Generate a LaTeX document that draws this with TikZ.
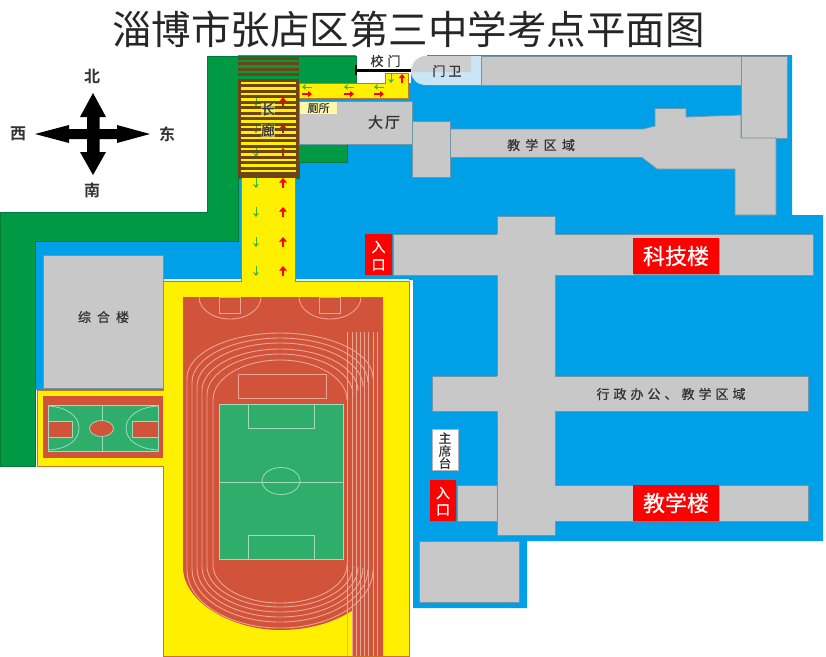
\documentclass[tikz,border=0pt]{standalone}
\usepackage{fontspec}
\setmainfont{Noto Sans CJK SC}
\newfontfamily\cjkbold{Noto Sans CJK SC Bold}
\newfontfamily\cjkmid[FakeBold=0.6]{Noto Sans CJK SC}
\usetikzlibrary{arrows.meta}
\definecolor{mapblue}{HTML}{00A0E9}
\definecolor{mapgreen}{HTML}{009A44}
\definecolor{mapyellow}{HTML}{FFF000}
\definecolor{mapgrey}{HTML}{C8C8C8}
\definecolor{trackred}{HTML}{D0533A}
\definecolor{pitch}{HTML}{2EAD6B}
\definecolor{edgeorange}{HTML}{C9781E}
\definecolor{corrbrown}{HTML}{6E4414}
\definecolor{laneline}{HTML}{EDA596}
\definecolor{gatelight}{HTML}{C9E5F6}
\definecolor{inkgrey}{HTML}{333333}
\newcommand{\fs}[1]{\fontsize{#1}{#1}\selectfont}
\tikzset{
  x=1pt,y=-1pt,
  blueland/.style={fill=mapblue},
  greenland/.style={fill=mapgreen,draw=mapgreen!80!black,line width=.3pt},
  building/.style={fill=mapgrey,draw=mapgrey!70!mapblue!80!black,line width=.7pt},
  roadway/.style={fill=mapyellow,draw=edgeorange,line width=.8pt},
  fieldline/.style={draw=laneline,line width=.9pt},
  pitchline/.style={draw=pitch!45!white,line width=.8pt},
  label/.style={inner sep=0pt,text=inkgrey,font=\cjkmid\fs{13}},
  badge/.style={fill=red,text=white,inner sep=0pt,font=\cjkmid\fs{22}},
  dirlabel/.style={inner sep=0pt,text=inkgrey,font=\cjkbold\fs{16}},
  downarrow/.style={draw=mapgreen!75!yellow,line width=1pt,-{Stealth[length=4pt,width=6pt,inset=1.5pt]}},
  uparrow/.style={draw=red,line width=2pt,-{Stealth[length=4.5pt,width=7.5pt,inset=0pt]}},
  thinup/.style={draw=red,line width=1.5pt,-{Stealth[length=4pt,width=6pt,inset=0pt]}},
}
\begin{document}
\begin{tikzpicture}
\useasboundingbox[fill=white] (0,0) rectangle (826,656);
% title
\node[inner sep=0pt,text=black!85] (title) at (408.5,29) {\fs{39.5}淄博市张店区第三中学考点平面图};
% blue ground
\fill[blueland] (238,55)--(792,55)--(792,215)--(823,215)--(823,541)--(527,541)--(527,608)--(413,608)--(413,280)--(163,280)--(163,390)--(35,390)--(35,241)--(238,241)--cycle;
% white gate bay
\fill[white] (356,54) rectangle (411,83);
\fill[white] (411,54) rectangle (427,70);
% green ground
\path[greenland] (207,56)--(356,56)--(356,83)--(299,83)--(299,144)--(347,144)--(347,162)--(299,162)--(299,178)--(238,178)--(238,241)--(35,241)--(35,466)--(0,466)--(0,212)--(207,212)--cycle;
% yellow road and sports ground
\draw[white,line width=1.5pt] (164,279.5)--(241,279.5) (295,279.5)--(409,279.5);
\path[roadway] (241,170)--(295,170)--(295,281)--(409,281)--(409,656)--(163,656)--(163,466)--(37,466)--(37,390)--(163,390)--(163,281)--(241,281)--cycle;
\path[roadway] (299,83)--(385,83)--(385,73)--(408,73)--(408,98)--(299,98)--cycle;
% corridor
\fill[mapyellow] (241,80) rectangle (296,172);
\foreach \yy in {97,124,148}{
  \draw[downarrow] (256,\yy)--(256,\yy+9);
  \draw[thinup] (283,\yy+9)--(283,\yy);
}
\foreach \yy in {56.5,62,...,172}{
  \fill[corrbrown] (238,\yy) rectangle (299,\yy+3);
}
\fill[corrbrown] (238,172) rectangle (299,178);
\fill[corrbrown] (238,80) rectangle (241,178);
\fill[corrbrown] (296,80) rectangle (299,178);
% arrows on roads
\foreach \yy in {178,207,237,266}{
  \draw[downarrow] (256,\yy)--(256,\yy+10);
  \draw[uparrow] (283,\yy+10)--(283,\yy);
}
\foreach \xx in {307,349,379}{
  \draw[downarrow] (\xx+5,87)--(\xx-5,87);
  \draw[thinup] (\xx-5,94)--(\xx+5,94);
}
\draw[downarrow] (391,74)--(391,83);
\draw[thinup] (402,83)--(402,74);
% gate
\draw[black,line width=3pt] (356,70)--(411,70);
\draw[black,line width=1.5pt] (356,65)--(356,75);
\node[label] (gate) at (385.5,61) {校\hspace{4pt}门};
% gatehouse
\fill[gatelight] (481,56)--(426,56) .. controls (417,56) and (411,63) .. (411,71) .. controls (411,79) and (417,85) .. (426,85)--(481,85)--cycle;
\fill[mapgrey!90!white] (471,56)--(426,56) .. controls (418,56) and (412,63) .. (411.5,72)--(471,72)--cycle;
\node[label] (guard) at (447,71) {门\hspace{3pt}卫};
% north buildings
\path[building] (481,56) rectangle (741,85);
\path[building] (741,56) rectangle (787,138);
\path[building] (450,129)--(643,129)--(655,126)--(655,108.5)--(686,108.5)--(686,117)--(741,115)--(741,138)--(776,138)--(776,215)--(735,215)--(735,169)--(657,169)--(642,157.5)--(450,157.5)--cycle;
\path[building] (412,121) rectangle (450,177);
\path[building] (299,101) rectangle (412,144);
\fill[yellow!35!white] (300,102) rectangle (337,114);
\node[label,font=\cjkmid\fs{11}] (wc) at (318.5,108) {厕所};
\node[label,font=\cjkmid\fs{15}] (hall) at (384,122) {大\hspace{2pt}厅};
\node[label] (teacharea) at (541,145) {教\hspace{5.3pt}学\hspace{5.3pt}区\hspace{5.3pt}域};
\node[label,font=\cjkmid\fs{14},fill=mapyellow!50!white,fill opacity=.55,text opacity=1] (long) at (268,109) {长};
\node[label,font=\cjkmid\fs{14},fill=mapyellow!50!white,fill opacity=.55,text opacity=1] (lang) at (268,130) {廊};
% east buildings
\path[building] (393,234) rectangle (813,275);
\path[building] (432,376) rectangle (808,411);
\path[building] (457,485) rectangle (808,521);
\path[building,draw=none] (497,216) rectangle (555,535);
\draw[mapgrey!70!mapblue!80!black,line width=.7pt] (497,234)--(497,216)--(555,216)--(555,234) (497,275)--(497,376) (555,275)--(555,376) (497,411)--(497,535)--(555,535)--(555,521) (555,411)--(555,485);
\path[building] (419,541) rectangle (519,602);
\path[building] (43,255) rectangle (163,388);
\node[label] (zonghe) at (103.5,317) {综\hspace{6pt}合\hspace{6pt}楼};
\node[label] (admin) at (671,394) {行\hspace{4pt}政\hspace{4pt}办\hspace{4pt}公\hspace{4pt}、\hspace{4pt}教\hspace{4pt}学\hspace{4pt}区\hspace{4pt}域};
% red labels
\fill[black!55,opacity=.5] (634,239) rectangle (720,275.5);
\fill[black!55,opacity=.5] (634,486) rectangle (720,522.5);
\fill[black!55,opacity=.5] (366,235) rectangle (393,276);
\fill[black!55,opacity=.5] (431,481) rectangle (457,522);
\node[badge,minimum width=86pt,minimum height=36pt] (keji) at (676,256) {科技楼};
\node[badge,minimum width=86pt,minimum height=36pt] (jiaoxue) at (676,503) {教学楼};
\node[fill=red,minimum width=27pt,minimum height=41pt,inner sep=0pt] (entry1) at (378.5,254.5) {};
\node[fill=red,minimum width=26pt,minimum height=41pt,inner sep=0pt] (entry2) at (443,500.5) {};
\node[label,text=white,font=\cjkmid\fs{14}] (ru1) at (378.5,247) {入};
\node[label,text=white,font=\cjkmid\fs{14}] (kou1) at (378.5,265) {口};
\node[label,text=white,font=\cjkmid\fs{14}] (ru2) at (443,493) {入};
\node[label,text=white,font=\cjkmid\fs{14}] (kou2) at (443,510) {口};
\node[fill=white,draw=black!30,line width=.4pt,minimum width=26pt,minimum height=41pt,inner sep=0pt] (stand) at (445,450) {};
\node[label,font=\cjkmid\fs{12.5}] (s1) at (445,438) {主};
\node[label,font=\cjkmid\fs{12.5}] (s2) at (445,451) {席};
\node[label,font=\cjkmid\fs{12.5}] (s3) at (445,463) {台};
% track
\fill[trackred] (183,297)--(383,297)--(383,656)--(353,656)--(353,610) .. controls (335,622) and (310,630) .. (280,630) .. controls (232,630) and (183,602) .. (183,567)--cycle;
% lanes
\foreach \ll/\tt/\bb in {187/333/628,192/338/622,197/343/617,202/349/612,207/354/607,213/360/603}{
  \pgfmathsetmacro{\rr}{560-\ll}
  \pgfmathsetmacro{\yt}{378+(\ll-187)*22/26}
  \pgfmathsetmacro{\yb}{570-(\ll-187)*5/26}
  \pgfmathsetmacro{\kx}{(280-\ll)*.55}
  \pgfmathsetmacro{\kt}{(\yt-\tt)*.55}
  \pgfmathsetmacro{\kb}{(\bb-\yb)*.55}
  \draw[fieldline] (\ll,\yb)--(\ll,\yt) .. controls (\ll,{\yt-\kt}) and ({280-\kx},\tt) .. (280,\tt) .. controls ({280+\kx},\tt) and (\rr,{\yt-\kt}) .. (\rr,\yt)
     (\ll,\yb) .. controls (\ll,{\yb+\kb}) and ({280-\kx},\bb) .. (280,\bb) .. controls ({280+\kx},\bb) and (\rr,{\yb+\kb}) .. (\rr,\yb);
}
\foreach \xx in {347,352,356,360,364,368,373,377}{
  \draw[fieldline] (\xx,332)--(\xx,656);
}
% pitch
\fill[pitch] (219,404) rectangle (343,559);
\draw[pitchline] (219,404) rectangle (343,559);
\draw[pitchline] (219,482)--(343,482);
\draw[pitchline] (281,481) ellipse[x radius=19,y radius=13.5];
\draw[pitchline] (248,404) rectangle (314,428);
\draw[pitchline] (248,535) rectangle (314,559);
\draw[fieldline] (238,374) rectangle (326,398);
% throwing areas
\begin{scope}
\clip (183,297) rectangle (383,330);
\draw[fieldline] (230,297) ellipse[x radius=31,y radius=22];
\draw[fieldline] (330,297) ellipse[x radius=31,y radius=22];
\end{scope}
\draw[fieldline] (219,297) rectangle (240,313);
\draw[fieldline] (319,297) rectangle (340,313);
% basketball court
\fill[trackred] (43,396) rectangle (163,458);
\fill[pitch] (48,405) rectangle (158,451);
\fill[trackred] (48,421) rectangle (72,437);
\fill[trackred] (132,421) rectangle (158,437);
\draw[pitchline] (48,405) rectangle (158,451);
\draw[pitchline] (48,421) rectangle (72,437);
\draw[pitchline] (132,421) rectangle (158,437);
\draw[pitchline] (102,405)--(102,451);
\draw[pitchline,fill=trackred] (101.5,428.5) ellipse[x radius=12,y radius=8];
\draw[pitchline] (48,406) .. controls (68,407) and (79,417) .. (79,428) .. controls (79,440) and (68,449) .. (48,450);
\draw[pitchline] (158,406) .. controls (138,407) and (126,417) .. (126,428) .. controls (126,440) and (138,449) .. (158,450);
% compass
\fill[black] (93,93)--(106,117)--(99.5,117)--(99.5,129)--(117,129)--(117,125)--(150,134)--(117,143)--(117,139)--(99.5,139)--(99.5,152)--(106,152)--(93,175)--(80,152)--(87,152)--(87,139)--(69,139)--(69,143)--(35,134)--(69,125)--(69,129)--(87,129)--(87,117)--(80,117)--cycle;
\node[dirlabel] (north) at (92,76) {北};
\node[dirlabel] (south) at (92,190) {南};
\node[dirlabel] (west) at (18,134) {西};
\node[dirlabel] (east) at (167,134) {东};
\end{tikzpicture}
\end{document}
